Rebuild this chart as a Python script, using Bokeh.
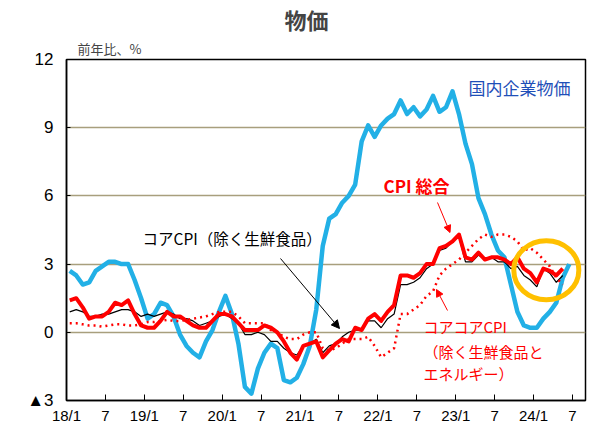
from bokeh.plotting import figure
from bokeh.models import FixedTicker, Label, Arrow, NormalHead, Range1d, Title
from bokeh.embed import file_html
from bokeh.resources import INLINE

# ---- data (monthly, 2018/1 onward, % y/y) ----
tick_months = [0, 6, 12, 18, 24, 30, 36, 42, 48, 54, 60, 66, 72, 78]
tick_labels = ["18/1", "7", "19/1", "7", "20/1", "7", "21/1", "7",
               "22/1", "7", "23/1", "7", "24/1", "7"]

cgpi = [2.7, 2.5, 2.1, 2.2, 2.7, 2.9, 3.1, 3.1, 3.0, 3.0, 2.3, 1.5,
        0.6, 0.8, 1.3, 1.2, 0.7, -0.1, -0.6, -0.9, -1.1, -0.4, 0.1, 0.9,
        1.6, 0.8, -0.5, -2.4, -2.7, -1.6, -0.9, -0.5, -0.7, -2.1, -2.2, -2.0,
        -1.4, -0.6, 1.0, 3.8, 5.0, 5.2, 5.7, 6.0, 6.5, 8.4, 9.1, 8.6,
        9.1, 9.4, 9.6, 10.2, 9.6, 9.9, 9.5, 9.8, 10.4, 9.7, 9.9, 10.6,
        9.6, 8.3, 7.4, 5.9, 5.2, 4.3, 3.6, 3.3, 2.1, 0.9, 0.3, 0.2,
        0.2, 0.6, 0.9, 1.3, 2.4, 3.0]

cpi_all = [1.4, 1.5, 1.1, 0.6, 0.7, 0.7, 0.9, 1.3, 1.2, 1.4, 0.8, 0.3,
           0.2, 0.2, 0.5, 0.9, 0.7, 0.7, 0.5, 0.3, 0.2, 0.2, 0.5, 0.8,
           0.8, 0.7, 0.4, 0.1, 0.1, 0.1, 0.3, 0.2, 0.0, -0.4, -0.9, -1.2,
           -0.6, -0.5, -0.4, -1.1, -0.8, -0.5, -0.3, -0.4, 0.2, 0.1, 0.6, 0.8,
           0.5, 0.9, 1.2, 2.5, 2.5, 2.4, 2.6, 3.0, 3.0, 3.7, 3.8, 4.0,
           4.3, 3.3, 3.2, 3.5, 3.2, 3.3, 3.3, 3.2, 3.0, 3.3, 2.8, 2.6,
           2.2, 2.8, 2.7, 2.5, 2.8]

cpi_core = [0.9, 1.0, 0.9, 0.7, 0.7, 0.8, 0.8, 0.9, 1.0, 1.0, 0.9, 0.7,
            0.8, 0.7, 0.8, 0.9, 0.8, 0.6, 0.6, 0.5, 0.3, 0.4, 0.5, 0.7,
            0.8, 0.6, 0.4, -0.1, -0.1, 0.0, -0.1, -0.4, -0.4, -0.7, -0.9, -1.0,
            -0.6, -0.5, -0.3, -0.9, -0.6, -0.5, -0.2, 0.0, 0.1, 0.1, 0.5, 0.5,
            0.2, 0.6, 0.8, 2.1, 2.1, 2.2, 2.4, 2.8, 3.0, 3.6, 3.7, 4.0,
            4.2, 3.1, 3.1, 3.4, 3.2, 3.3, 3.1, 3.1, 2.8, 2.9, 2.5, 2.3,
            2.0, 2.8, 2.6, 2.2, 2.5]

cpi_corecore = [0.4, 0.4, 0.35, 0.3, 0.3, 0.25, 0.3, 0.35, 0.35, 0.3, 0.3, 0.35,
                0.45, 0.45, 0.5, 0.55, 0.5, 0.5, 0.55, 0.6, 0.65, 0.7, 0.8, 0.9,
                0.9, 0.9, 0.7, 0.4, 0.4, 0.4, 0.4, 0.1, 0.0, -0.2, -0.3, -0.3,
                -0.1, 0.0, 0.0, -0.7, -0.8, -0.7, -0.5, -0.3, -0.3, -0.3, -0.2, -0.6,
                -1.1, -0.9, -0.7, 0.8, 0.8, 1.0, 1.2, 1.6, 1.8, 2.5, 2.8, 3.0,
                3.2, 3.5, 3.8, 4.1, 4.3, 4.2, 4.3, 4.3, 4.2, 4.0, 3.6, 3.7,
                3.5, 3.2, 2.9, 2.4, 2.1]

y_ticks = [-3, 0, 3, 6, 9, 12]
y_tick_labels = ["▲3", "0", "3", "6", "9", "12"]

JP = "Noto Sans CJK JP"
BLUE = "#22B0E6"
RED = "#FF0000"

# ---- figure geometry ----
X0, X1 = 0, 80
Y0, Y1 = -3, 12
W, H = 595, 429
ML, MT, FW, FH = 66, 59, 519, 341

p = figure(width=W, height=H, output_backend="svg", toolbar_location=None,
           x_range=Range1d(X0, X1), y_range=Range1d(Y0, Y1),
           frame_width=FW, frame_height=FH,
           min_border_left=ML, min_border_top=MT,
           min_border_right=W - ML - FW, min_border_bottom=H - MT - FH)
p.background_fill_color = "white"
p.border_fill_color = "white"
p.outline_line_color = "black"
p.outline_line_width = 1.5

# titles
p.add_layout(Title(text="前年比、%", align="left", offset=11,
                   text_font=JP, text_font_size="13px", text_font_style="normal",
                   standoff=4), "above")
p.title.text = "物価"
p.title.align = "left"
p.title.offset = 218
p.title.text_font = JP
p.title.text_font_size = "22px"
p.title.text_font_style = "bold"
p.title.standoff = 0

# page pixel -> data helpers (for annotations only)
def dx(px):
    return X0 + (px - ML) * (X1 - X0) / FW

def dy(py):
    return Y1 - (py - MT) * (Y1 - Y0) / FH

# axes
p.xaxis.ticker = FixedTicker(ticks=tick_months)
p.xaxis.major_label_overrides = {m: l for m, l in zip(tick_months, tick_labels)}
p.xaxis.major_tick_in = 6
p.xaxis.major_tick_out = 0
p.xaxis.minor_tick_line_color = None
p.xaxis.major_label_standoff = 6
p.xaxis.major_label_text_font = "Liberation Sans"
p.xaxis.major_label_text_font_size = "15px"
p.xaxis.major_label_text_color = "black"
p.xaxis.axis_line_color = "black"
p.xaxis.axis_line_width = 1.5

p.yaxis.ticker = FixedTicker(ticks=y_ticks)
p.yaxis.major_label_overrides = {t: l for t, l in zip(y_ticks, y_tick_labels)}
p.yaxis.major_tick_in = 4
p.yaxis.major_tick_out = 0
p.yaxis.minor_tick_line_color = None
p.yaxis.major_label_standoff = 13
p.yaxis.major_label_text_font = "Liberation Sans"
p.yaxis.major_label_text_font_size = "17px"
p.yaxis.major_label_text_color = "black"
p.yaxis.axis_line_color = "black"
p.yaxis.axis_line_width = 1.5

p.xgrid.grid_line_color = None
p.ygrid.ticker = FixedTicker(ticks=[0, 3, 6, 9])
p.ygrid.grid_line_color = "#A89F7D"
p.ygrid.grid_line_width = 1.5

# series
xs_b = [i + 0.5 for i in range(len(cgpi))]
xs_c = [i + 0.5 for i in range(len(cpi_all))]
p.line(xs_b, cgpi, line_color=BLUE, line_width=4.5, line_join="round")
p.line(xs_c, cpi_core, line_color="black", line_width=1.2)
p.line(xs_c, cpi_corecore, line_color=RED, line_width=2.5, line_dash="2 4")
p.line(xs_c, cpi_all, line_color=RED, line_width=4, line_join="round")

# highlight ellipse
p.ellipse(x=[dx(545.8)], y=[dy(269.7)], width=[65 * (X1 - X0) / FW],
          height=[59 * (Y1 - Y0) / FH], fill_color=None,
          line_color="#FFC000", line_width=5)

# texts
def add_text(txt, px, py, size, color="black", align="left", bold=False):
    p.add_layout(Label(x=dx(px), y=dy(py), text=txt, text_font=JP,
                       text_font_size=size, text_color=color,
                       text_align=align, text_baseline="middle",
                       text_font_style="bold" if bold else "normal"))

add_text("国内企業物価", 468, 87, "17px", color="#1F4FB8")
add_text("CPI 総合", 383, 185, "17px", color=RED, bold=True)
add_text("コアCPI（除く生鮮食品）", 142, 237, "15.5px")
add_text("コアコアCPI", 423, 326, "15px", color=RED)
add_text("（除く生鮮食品と", 423, 351, "15px", color=RED)
add_text("エネルギー）", 423, 373, "15px", color=RED)

# arrows
p.add_layout(Arrow(x_start=dx(280), y_start=dy(258), x_end=dx(339), y_end=dy(328),
                   line_color="black", line_width=1,
                   end=NormalHead(size=8, fill_color="black", line_color="black")))
p.add_layout(Arrow(x_start=dx(437), y_start=dy(202), x_end=dx(449.5), y_end=dy(232),
                   line_color=RED, line_width=1,
                   end=NormalHead(size=7, fill_color=RED, line_color=RED)))
p.add_layout(Arrow(x_start=dx(447), y_start=dy(310), x_end=dx(436), y_end=dy(289),
                   line_color=RED, line_width=1,
                   end=NormalHead(size=7, fill_color=RED, line_color=RED)))

open("out.html", "w").write(file_html(p, INLINE))
